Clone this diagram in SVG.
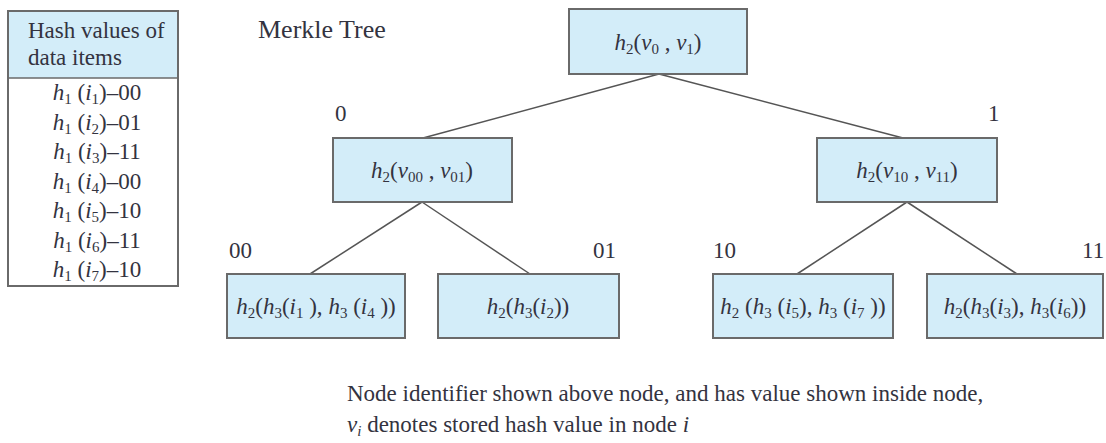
<svg xmlns="http://www.w3.org/2000/svg" width="1106" height="443" viewBox="0 0 1106 443">
<style>
text{font-family:"Liberation Serif","Tinos","Times New Roman","Noto Serif","DejaVu Serif",serif;font-size:23px;fill:#333340}
.m{text-anchor:middle}
.i{font-style:italic}
.node{fill:#d3edf9;stroke:#6a6a6a;stroke-width:2}
.edge{stroke:#555;stroke-width:1.5;fill:none}
</style>
<rect width="1106" height="443" fill="#fff"/>
<g id="table">
<rect x="8" y="11" width="170" height="67" fill="#d3edf9"/>
<rect x="8" y="11" width="170" height="275" fill="none" stroke="#6a6a6a" stroke-width="2"/>
<line x1="8" y1="78" x2="178" y2="78" stroke="#6a6a6a" stroke-width="1.5"/>
<text x="28" y="38">Hash values of</text>
<text x="28" y="65">data items</text>
<text class="m" x="97" y="100"><tspan class="i">h</tspan><tspan font-size="15" dy="4">1</tspan><tspan dy="-4"> (</tspan><tspan class="i">i</tspan><tspan font-size="15" dy="4">1</tspan><tspan dy="-4">)–00</tspan></text>
<text class="m" x="97" y="129.5"><tspan class="i">h</tspan><tspan font-size="15" dy="4">1</tspan><tspan dy="-4"> (</tspan><tspan class="i">i</tspan><tspan font-size="15" dy="4">2</tspan><tspan dy="-4">)–01</tspan></text>
<text class="m" x="97" y="159"><tspan class="i">h</tspan><tspan font-size="15" dy="4">1</tspan><tspan dy="-4"> (</tspan><tspan class="i">i</tspan><tspan font-size="15" dy="4">3</tspan><tspan dy="-4">)–11</tspan></text>
<text class="m" x="97" y="188.5"><tspan class="i">h</tspan><tspan font-size="15" dy="4">1</tspan><tspan dy="-4"> (</tspan><tspan class="i">i</tspan><tspan font-size="15" dy="4">4</tspan><tspan dy="-4">)–00</tspan></text>
<text class="m" x="97" y="218"><tspan class="i">h</tspan><tspan font-size="15" dy="4">1</tspan><tspan dy="-4"> (</tspan><tspan class="i">i</tspan><tspan font-size="15" dy="4">5</tspan><tspan dy="-4">)–10</tspan></text>
<text class="m" x="97" y="247.5"><tspan class="i">h</tspan><tspan font-size="15" dy="4">1</tspan><tspan dy="-4"> (</tspan><tspan class="i">i</tspan><tspan font-size="15" dy="4">6</tspan><tspan dy="-4">)–11</tspan></text>
<text class="m" x="97" y="277"><tspan class="i">h</tspan><tspan font-size="15" dy="4">1</tspan><tspan dy="-4"> (</tspan><tspan class="i">i</tspan><tspan font-size="15" dy="4">7</tspan><tspan dy="-4">)–10</tspan></text>
</g>
<text id="title" x="258" y="38" style="font-size:26px">Merkle Tree</text>
<g id="connectors">
<line class="edge" x1="659" y1="74" x2="423" y2="138"/>
<line class="edge" x1="659" y1="74" x2="903" y2="138"/>
<line class="edge" x1="422" y1="202" x2="310" y2="274"/>
<line class="edge" x1="422" y1="202" x2="530" y2="274"/>
<line class="edge" x1="907" y1="202" x2="797" y2="274"/>
<line class="edge" x1="907" y1="202" x2="1017" y2="274"/>
</g>
<g id="node-root">
<rect class="node" x="569" y="9" width="178" height="65"/>
<text class="m" x="658" y="50"><tspan class="i">h</tspan><tspan font-size="15" dy="4">2</tspan><tspan dy="-4">(</tspan><tspan class="i">v</tspan><tspan font-size="15" dy="4">0</tspan><tspan dy="-4"> , </tspan><tspan class="i">v</tspan><tspan font-size="15" dy="4">1</tspan><tspan dy="-4">)</tspan></text>
</g>
<g id="node-0">
<text x="335" y="121">0</text>
<rect class="node" x="333" y="138" width="179" height="64"/>
<text class="m" x="422" y="178"><tspan class="i">h</tspan><tspan font-size="15" dy="4">2</tspan><tspan dy="-4">(</tspan><tspan class="i">v</tspan><tspan font-size="15" dy="4">00</tspan><tspan dy="-4"> , </tspan><tspan class="i">v</tspan><tspan font-size="15" dy="4">01</tspan><tspan dy="-4">)</tspan></text>
</g>
<g id="node-1">
<text x="988" y="121">1</text>
<rect class="node" x="817" y="138" width="180" height="64"/>
<text class="m" x="907" y="178"><tspan class="i">h</tspan><tspan font-size="15" dy="4">2</tspan><tspan dy="-4">(</tspan><tspan class="i">v</tspan><tspan font-size="15" dy="4">10</tspan><tspan dy="-4"> , </tspan><tspan class="i">v</tspan><tspan font-size="15" dy="4">11</tspan><tspan dy="-4">)</tspan></text>
</g>
<g id="node-00">
<text x="229" y="258">00</text>
<rect class="node" x="227" y="274" width="178" height="64"/>
<text class="m" x="316" y="314"><tspan class="i">h</tspan><tspan font-size="15" dy="4">2</tspan><tspan dy="-4">(</tspan><tspan class="i">h</tspan><tspan font-size="15" dy="4">3</tspan><tspan dy="-4">(</tspan><tspan class="i">i</tspan><tspan font-size="15" dy="4">1</tspan><tspan dy="-4"> ), </tspan><tspan class="i">h</tspan><tspan font-size="15" dy="4">3</tspan><tspan dy="-4"> (</tspan><tspan class="i">i</tspan><tspan font-size="15" dy="4">4</tspan><tspan dy="-4"> ))</tspan></text>
</g>
<g id="node-01">
<text x="593" y="258">01</text>
<rect class="node" x="438" y="274" width="181" height="64"/>
<text class="m" x="528" y="314"><tspan class="i">h</tspan><tspan font-size="15" dy="4">2</tspan><tspan dy="-4">(</tspan><tspan class="i">h</tspan><tspan font-size="15" dy="4">3</tspan><tspan dy="-4">(</tspan><tspan class="i">i</tspan><tspan font-size="15" dy="4">2</tspan><tspan dy="-4">))</tspan></text>
</g>
<g id="node-10">
<text x="713" y="258">10</text>
<rect class="node" x="713" y="274" width="180" height="64"/>
<text class="m" x="803" y="314"><tspan class="i">h</tspan><tspan font-size="15" dy="4">2</tspan><tspan dy="-4"> (</tspan><tspan class="i">h</tspan><tspan font-size="15" dy="4">3</tspan><tspan dy="-4"> (</tspan><tspan class="i">i</tspan><tspan font-size="15" dy="4">5</tspan><tspan dy="-4">), </tspan><tspan class="i">h</tspan><tspan font-size="15" dy="4">3</tspan><tspan dy="-4"> (</tspan><tspan class="i">i</tspan><tspan font-size="15" dy="4">7</tspan><tspan dy="-4"> ))</tspan></text>
</g>
<g id="node-11">
<text x="1082" y="258">11</text>
<rect class="node" x="927" y="274" width="176" height="64"/>
<text class="m" x="1015" y="314"><tspan class="i">h</tspan><tspan font-size="15" dy="4">2</tspan><tspan dy="-4">(</tspan><tspan class="i">h</tspan><tspan font-size="15" dy="4">3</tspan><tspan dy="-4">(</tspan><tspan class="i">i</tspan><tspan font-size="15" dy="4">3</tspan><tspan dy="-4">), </tspan><tspan class="i">h</tspan><tspan font-size="15" dy="4">3</tspan><tspan dy="-4">(</tspan><tspan class="i">i</tspan><tspan font-size="15" dy="4">6</tspan><tspan dy="-4">))</tspan></text>
</g>
<g id="caption">
<text x="347" y="401">Node identifier shown above node, and has value shown inside node,</text>
<text x="347" y="432"><tspan class="i">v</tspan><tspan class="i" font-size="15" dy="4">i</tspan><tspan dy="-4"> denotes stored hash value in node </tspan><tspan class="i">i</tspan></text>
</g>
</svg>
